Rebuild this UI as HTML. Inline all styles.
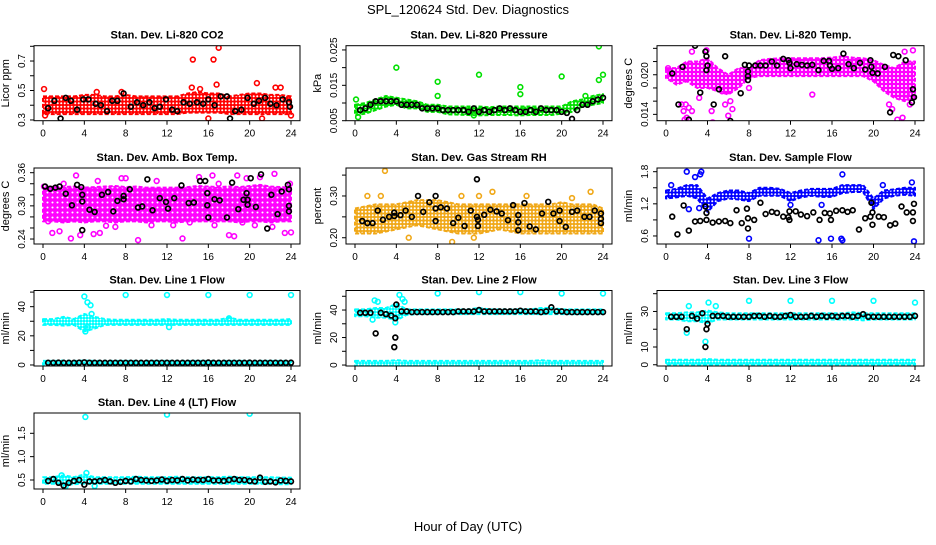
<!DOCTYPE html>
<html><head><meta charset="utf-8"><style>
body{margin:0;background:#fff;}
svg text{font-family:"Liberation Sans",sans-serif;}
</style></head><body>
<svg id="chart" width="936" height="540" viewBox="0 0 936 540" xmlns="http://www.w3.org/2000/svg">
<rect width="936" height="540" fill="#fff"/>
<defs id="defs"></defs>
<text x="468" y="14" font-size="13" text-anchor="middle">SPL_120624  Std. Dev. Diagnostics</text>
<text x="468" y="531" font-size="13" text-anchor="middle">Hour of Day (UTC)</text>
<g id="panels"></g>
</svg>
<script>
const xTicks = [0,4,8,12,16,20,24];
const H = [0,1,2,3,4,5,6,7,8,9,10,11,12,13,14,15,16,17,18,19,20,21,22,23,24];
const HH = [0.5,1,1.5,2,2.5,3,3.5,4,4.5,5,5.5,6,6.5,7,7.5,8,8.5,9,9.5,10,10.5,11,11.5,12,12.5,13,13.5,14,14.5,15,15.5,16,16.5,17,17.5,18,18.5,19,19.5,20,20.5,21,21.5,22,22.5,23,23.5,24];

// P1 CO2
const co2Lo = [0.34,0.34,0.34,0.34,0.34,0.34,0.34,0.34,0.34,0.34,0.34,0.34,0.34,0.34,0.35,0.35,0.35,0.35,0.34,0.34,0.34,0.34,0.34,0.34,0.34];
const co2Hi = [0.46,0.46,0.46,0.46,0.47,0.47,0.46,0.46,0.47,0.46,0.46,0.46,0.46,0.46,0.48,0.49,0.48,0.48,0.46,0.47,0.48,0.48,0.47,0.47,0.46];
const co2OutX = [0.1,0.2,14.5,16.5,17,16.8,20.7,21.2,16,22.5,23,24,7.6,5.2,14.4,15.2];
const co2OutY = [0.51,0.33,0.71,0.71,0.79,0.54,0.55,0.31,0.31,0.52,0.52,0.33,0.49,0.49,0.52,0.51];
const co2BX = [0.5,1.1,1.7,2.2,2.7,3.3,3.9,4.4,5.1,5.6,6.2,6.7,7.2,7.8,8.5,9.1,9.7,10.3,10.8,11.3,11.9,12.5,13,13.6,14.2,14.9,15.5,16,16.6,17.2,17.8,18.1,18.6,19.2,19.8,20.4,20.9,21.5,22,22.6,23.2,23.8,23.9];
const co2BY = [0.38,0.43,0.31,0.45,0.43,0.37,0.44,0.44,0.41,0.40,0.36,0.43,0.43,0.48,0.39,0.42,0.40,0.42,0.38,0.39,0.44,0.37,0.36,0.42,0.41,0.42,0.41,0.44,0.40,0.46,0.46,0.31,0.36,0.37,0.45,0.41,0.43,0.45,0.41,0.40,0.44,0.42,0.39];

// P2 Pressure
const prLo = [0.0065,0.007,0.008,0.009,0.0095,0.0085,0.0085,0.0075,0.0075,0.0068,0.0067,0.0066,0.0065,0.0066,0.0066,0.0066,0.0065,0.0066,0.0066,0.0066,0.007,0.0075,0.009,0.0095,0.010];
const prHi = [0.0095,0.010,0.011,0.012,0.0115,0.011,0.0105,0.0095,0.0095,0.009,0.009,0.009,0.009,0.0088,0.009,0.009,0.009,0.009,0.009,0.009,0.009,0.0105,0.011,0.012,0.0125];
const prOutX = [0.1,4,8,8,12,16,16,20,22.3,23.6,23.6,24,0.3,11.5];
const prOutY = [0.011,0.020,0.016,0.012,0.018,0.0145,0.0125,0.0175,0.012,0.026,0.0165,0.018,0.006,0.0065];
const prBY = [0.008,0.0085,0.0095,0.0105,0.0105,0.0105,0.0105,0.0105,0.0095,0.0095,0.0095,0.0095,0.0085,0.0085,0.0085,0.0085,0.008,0.008,0.008,0.008,0.008,0.0075,0.0085,0.0075,0.008,0.0075,0.008,0.0085,0.008,0.0085,0.008,0.0075,0.0075,0.008,0.0075,0.0085,0.008,0.008,0.008,0.0075,0.0072,0.0055,0.008,0.0095,0.0095,0.0105,0.011,0.0115];

// P3 Temp
const tLo = [0.0195,0.0185,0.019,0.018,0.018,0.0175,0.017,0.018,0.0195,0.0198,0.0198,0.0198,0.0198,0.0198,0.0198,0.0198,0.0198,0.0198,0.0198,0.0198,0.019,0.0175,0.0165,0.016,0.0165];
const tHi = [0.021,0.021,0.022,0.022,0.0225,0.021,0.020,0.021,0.021,0.0222,0.0224,0.0225,0.0225,0.0225,0.0225,0.0225,0.0226,0.0228,0.0226,0.0225,0.0222,0.0215,0.021,0.022,0.022];
const tOutX = [1.5,1.7,1.9,2.2,2.0,2.5,3.2,4.4,4.5,5.7,6.2,6.4,6.0,8.0,14.1,21.5,21.8,22.3,22.8,23.2,23.5,23.8,23.0,1.8,0.2,2.5,3.9,5.4];
const tOutY = [0.0155,0.0145,0.0155,0.015,0.0135,0.0145,0.0165,0.0145,0.0128,0.0155,0.016,0.0148,0.0138,0.018,0.017,0.0155,0.0148,0.0132,0.0135,0.017,0.0155,0.0237,0.0235,0.0132,0.021,0.0235,0.0237,0.0175];
const tBX = [0.6,1.2,1.6,2.2,2.8,3.3,3.8,3.9,4,3.9,4.6,5.1,5.7,6.2,7.2,7.6,7.9,7.9,7.9,8,8.6,9.1,9.6,10.2,10.7,11.3,11.8,11.9,12,12.6,13.1,13.6,14.1,14.7,15.2,15.7,15.8,16,16.6,17.1,17.6,18.1,18.7,19.2,19.7,19.8,19.9,20.4,21.1,21.6,21.9,22.4,23.1,23.8,23.9,23.7];
const tBY = [0.0202,0.0155,0.0212,0.0132,0.0244,0.0173,0.0235,0.0228,0.0214,0.0207,0.0155,0.0178,0.0228,0.013,0.0172,0.0215,0.0205,0.0198,0.0192,0.0214,0.0214,0.0214,0.0214,0.022,0.0214,0.0224,0.0222,0.0218,0.021,0.0216,0.0215,0.0214,0.0215,0.0207,0.0221,0.0221,0.0214,0.0209,0.021,0.0232,0.0216,0.021,0.0218,0.0208,0.0222,0.0212,0.0203,0.0202,0.0212,0.0143,0.023,0.0228,0.0222,0.0178,0.0166,0.0158];

// P4 Amb box temp
const aLo = [0.272,0.272,0.27,0.272,0.27,0.272,0.272,0.27,0.272,0.272,0.27,0.272,0.272,0.27,0.272,0.272,0.272,0.272,0.272,0.27,0.272,0.272,0.27,0.272,0.272];
const aHi = [0.332,0.335,0.334,0.335,0.333,0.334,0.335,0.336,0.334,0.335,0.333,0.333,0.333,0.333,0.334,0.336,0.335,0.334,0.335,0.334,0.336,0.338,0.335,0.334,0.333];
const aOutX = [0.5,0.9,1.6,2.7,3.2,3.6,4.9,5.5,6.1,7.0,7.6,9.2,10.5,13.5,14.2,15.1,16.4,18,18.5,18.8,19.3,21,22.4,22.2,23.4,24,0.1,2,5.3,8,11,12.6,20.5,16.6,17,17.5,19.7,23.9];
const aOutY = [0.272,0.251,0.254,0.241,0.355,0.247,0.249,0.251,0.264,0.262,0.35,0.238,0.265,0.241,0.27,0.352,0.355,0.247,0.245,0.355,0.27,0.352,0.358,0.262,0.251,0.252,0.335,0.34,0.345,0.35,0.345,0.265,0.265,0.265,0.34,0.28,0.35,0.34];
const aBX = [0.2,0.7,1.2,1.6,2.2,2.8,3.3,3.7,3.8,3.8,3.8,4.5,5,5.7,6.3,6.8,7.2,7.8,7.8,8.4,9.2,9.6,10.1,10.6,11.3,11.9,12.1,12.7,13.4,14.1,14.6,15.2,15.7,15.9,15.9,16,16.6,17.1,17.8,18.3,18.9,19.4,19.8,19.7,19.8,20.1,20.6,21.1,21.7,22.1,22.7,23.1,23.7,23.8,23.8,23.8];
const aBY = [0.335,0.331,0.333,0.335,0.322,0.301,0.338,0.334,0.32,0.308,0.256,0.293,0.289,0.32,0.325,0.29,0.309,0.318,0.312,0.33,0.297,0.299,0.348,0.292,0.314,0.307,0.295,0.314,0.337,0.305,0.306,0.345,0.345,0.323,0.301,0.279,0.312,0.31,0.279,0.342,0.294,0.311,0.311,0.323,0.302,0.35,0.298,0.357,0.259,0.32,0.285,0.326,0.338,0.33,0.30,0.29];

// P5 RH
const rLo = [0.21,0.21,0.21,0.215,0.22,0.225,0.23,0.225,0.22,0.215,0.21,0.21,0.21,0.215,0.22,0.215,0.21,0.21,0.21,0.21,0.21,0.21,0.21,0.21,0.21];
const rHi = [0.27,0.275,0.28,0.28,0.28,0.285,0.29,0.29,0.29,0.285,0.28,0.28,0.28,0.28,0.28,0.28,0.28,0.28,0.28,0.28,0.285,0.28,0.28,0.28,0.27];
const rOutX = [2.9,2.5,1.2,9.4,10.3,12,13.3,16.6,21,22.8,5.2,11.5];
const rOutY = [0.36,0.30,0.30,0.19,0.30,0.30,0.31,0.30,0.295,0.31,0.20,0.20];
const rBX = [0.7,1.2,1.7,2.2,2.7,3.3,3.8,3.8,4.4,4.9,5.5,6.1,6.6,7.2,7.8,7.8,7.8,8.3,8.9,9.5,10,10.6,11.2,11.8,11.8,11.9,11.9,12.5,13.1,13.7,14.2,14.8,15.3,15.8,15.8,15.8,16.4,16.9,17.5,18.1,18.7,19.2,19.8,19.8,20.4,21,21.5,22.2,22.7,23.2,23.8,23.8,23.8];
const rBY = [0.24,0.235,0.235,0.265,0.243,0.25,0.26,0.252,0.254,0.265,0.25,0.30,0.262,0.285,0.30,0.27,0.24,0.273,0.27,0.235,0.248,0.228,0.265,0.34,0.25,0.228,0.243,0.255,0.267,0.263,0.258,0.242,0.278,0.254,0.237,0.218,0.283,0.227,0.22,0.258,0.286,0.258,0.265,0.24,0.226,0.262,0.265,0.25,0.25,0.265,0.258,0.245,0.235];

// P6 Sample flow
const sLo = [1.3,1.32,1.35,1.3,1.05,1.25,1.3,1.28,1.25,1.35,1.35,1.35,1.25,1.32,1.35,1.33,1.33,1.4,1.42,1.42,1.1,1.3,1.35,1.37,1.35];
const sHi = [1.45,1.48,1.55,1.55,1.3,1.4,1.45,1.45,1.4,1.5,1.5,1.48,1.4,1.45,1.48,1.48,1.48,1.55,1.55,1.55,1.3,1.45,1.47,1.5,1.5];
const sOutX = [2,3.4,3.3,2.8,0.5,2.2,3.2,8,14.7,15.9,16.9,17,23.9,17,23.7,12,15,20.9];
const sOutY = [1.8,1.8,1.75,1.7,1.55,1.1,1.12,0.55,0.52,0.55,0.55,0.52,0.5,1.75,1.6,1.18,1.18,1.55];
const sBX = [0.6,1.1,1.7,2.2,2.8,3.3,3.8,3.9,3.9,4.5,5.1,5.7,6.2,6.8,7.3,7.8,7.9,7.9,8.5,9.1,9.6,10.2,10.7,11.3,11.8,11.9,11.9,12.5,13,13.6,14.2,14.8,15.3,15.8,15.9,16.4,17,17.5,18,18.6,19.2,19.7,19.8,19.9,19.9,20.5,21,21.6,22.1,22.7,23.2,23.8,23.8,23.9];
const sBY = [0.96,0.63,1.17,0.70,0.87,0.88,1.15,1.03,0.90,0.85,0.87,0.88,0.84,1.08,0.84,1.11,0.93,0.74,0.90,1.22,1.01,1.05,1.03,0.96,0.95,0.90,1.06,1.06,1.00,0.97,1.04,0.90,1.03,1.02,0.90,1.07,1.08,1.05,1.08,0.72,0.93,0.96,1.22,1.04,0.81,0.96,0.95,0.80,0.83,1.15,1.04,1.04,0.88,1.20];

// P7 Line 1 flow
const l1Lo = [27.5,27.5,27,27.5,23,25,27.5,27.5,27.5,27.5,27.5,27.5,27.5,27.5,27.5,27.5,27.5,27.5,27.5,27.5,27.5,27.5,27.5,27.5,27.5];
const l1Hi = [31.5,31.5,33,31.5,35,33,31.5,31,31,31,31,31,31.5,31,31,31,31,31,32.5,31,31,31,31,31,31.5];
const l1LoB = [0.3,0.3,0.3,0.3,0.3,0.3,0.3,0.3,0.3,0.3,0.3,0.3,0.3,0.3,0.3,0.3,0.3,0.3,0.3,0.3,0.3,0.3,0.3,0.3,0.3];
const l1HiB = [2.8,2.8,3,2.8,3,2.8,2.8,2.8,2.8,2.8,2.8,2.8,2.8,2.8,2.8,2.8,2.8,2.8,2.8,2.8,2.8,2.8,2.8,2.8,2.8];
const l1OutX = [4,4.3,4.6,4.7,4.1,4.3,8,12,16,20,24,12.2,18];
const l1OutY = [47,43,41,35,23,26,48,48,48,48,48,26,32];
const l1BY = [1.5,1.5,1.6,1.5,1.5,1.5,1.6,1.8,1.5,1.5,1.5,1.5,1.5,1.5,1.5,1.5,1.5,1.5,1.5,1.5,1.5,1.5,1.5,1.5,1.5,1.5,1.5,1.5,1.5,1.5,1.5,1.7,1.5,1.5,1.5,1.5,1.5,1.5,1.5,1.6,1.5,1.5,1.5,1.5,1.5,1.5,1.5,1.6];

// P8 Line 2 flow
const l2Lo = [35.5,35.5,34.5,34.5,32.5,36.5,37,37,37,37,37,37,37,37,37,37,37,37,37,37,37,37,37,37,37];
const l2Hi = [40.5,40.5,41.5,41.5,44.5,40.5,40.5,40.5,40.5,40.5,40.5,40.5,41.5,40.5,40.5,40.5,40.5,40.5,41.5,41.5,40.5,40.5,40.5,40.5,40.5];
const l2LoB = [-0.5,-0.5,-0.5,-0.5,-0.5,-0.5,-0.5,-0.5,-0.5,-0.5,-0.5,-0.5,-0.5,-0.5,-0.5,-0.5,-0.5,-0.5,-0.5,-0.5,-0.5,-0.5,-0.5,-0.5,-0.5];
const l2HiB = [3,3,3,3,3.5,3,3,3,3,3,3,3,3,3,3,3,3,3,3.5,3,3,3,3,3,3];
const l2OutX = [1.9,2.2,4.3,4.6,4.8,8,12,16,20,24,1.7,3.9];
const l2OutY = [47,46,51,48,46,52,53,53,52,52,33,31];
const l2BY = [38,38,38,23,38,37,36,44,39,39,38.5,38.5,38.5,38.5,38.5,38.5,38.5,38.5,38.5,39,39,39,39,40,39,39,39,39,39,39,39,39.5,39,39,39,38.5,39,42,39,39,38.5,38.5,38.5,38.5,38.5,38.5,38.5,38.5];
const l2EX = [3.9,3.9,3.8];
const l2EY = [34,20,13];

// P9 Line 3 flow
const l3Lo = [25.5,25.5,24.5,24.5,23.5,25.5,25.5,25.5,25.5,25.5,25.5,25.5,25.5,25.5,25.5,25.5,25.5,25.5,25.5,25,25.5,25.5,25.5,25.5,25.5];
const l3Hi = [29,29,29.5,29.5,30.5,29.5,29,29,29,29,29,29,29,29,29,29,29,29,29.5,29,29,29,29,29,29];
const l3LoB = [0,0,0,0,0,0,0,0,0,0,0,0,0,0,0,0,0,0,0,0,0,0,0,0,0];
const l3HiB = [2.8,2.8,2.8,2.8,3.2,2.8,2.8,2.8,2.8,2.8,2.8,2.8,2.8,2.8,2.8,2.8,2.8,2.8,2.8,2.8,2.8,2.8,2.8,2.8,2.8];
const l3OutX = [2.2,4.1,4.8,2,3.8,8,12,16,20,24];
const l3OutY = [33,35,33,18,13,36,36,36,36,35];
const l3BY = [27,27,27,20,27.5,26,29,23,27.5,27.5,27.5,27,27,27,27,27,27.5,27.5,27,27.5,27,27,27.5,28,27,27,27,27.5,27,27.5,27,27.5,27,27.5,27.5,27,27.5,28.5,27,27,27,27,27,27,27,27,27,27.5];
const l3EX = [3.9,3.8];
const l3EY = [20,10];

// P10 Line 4 flow
const l4Lo = [0.42,0.42,0.39,0.41,0.42,0.42,0.42,0.42,0.42,0.42,0.42,0.42,0.42,0.42,0.42,0.42,0.42,0.42,0.42,0.42,0.42,0.42,0.42,0.41,0.41];
const l4Hi = [0.56,0.56,0.6,0.56,0.62,0.56,0.56,0.56,0.56,0.57,0.56,0.56,0.56,0.57,0.56,0.56,0.56,0.56,0.57,0.56,0.56,0.56,0.56,0.55,0.55];
const l4OutX = [4.1,12,20,4.2,1.8,2.2,5];
const l4OutY = [1.85,1.9,1.92,0.65,0.6,0.37,0.37];
const l4BY = [0.48,0.52,0.44,0.38,0.44,0.48,0.5,0.4,0.47,0.47,0.48,0.5,0.47,0.44,0.46,0.48,0.47,0.52,0.5,0.49,0.48,0.49,0.51,0.48,0.5,0.49,0.52,0.49,0.51,0.5,0.5,0.52,0.49,0.49,0.48,0.5,0.52,0.5,0.5,0.48,0.47,0.55,0.46,0.47,0.45,0.49,0.48,0.47];

const NS = "http://www.w3.org/2000/svg";
const root = document.getElementById('panels');
const defs = document.getElementById('defs');
function mk(tag, attrs, parent){const e=document.createElementNS(NS,tag);for(const k in attrs)e.setAttribute(k,attrs[k]);parent.appendChild(e);return e;}

const cols=[[34,300],[346,612],[657,924]];
const rows=[[45.7,120.7],[168,244],[290.5,366],[413,489]];

const panels=[
 {id:'co2',title:'Stan. Dev. Li-820 CO2',yt:'Licor ppm',c:0,r:0,ylim:[0.295,0.804],ticks:[0.3,0.4,0.5,0.6,0.7,0.8],labels:['0.3','','0.5','','0.7',''],color:'#ff0000',tile:3.5,
  bands:[[co2Lo,co2Hi]],outX:co2OutX,outY:co2OutY,bX:co2BX,bY:co2BY},
 {id:'pressure',title:'Stan. Dev. Li-820 Pressure',yt:'kPa',c:1,r:0,ylim:[0.005,0.0262],ticks:[0.005,0.01,0.015,0.02,0.025],labels:['0.005','','0.015','','0.025'],color:'#00e000',tile:3.5,
  bands:[[prLo,prHi]],outX:prOutX,outY:prOutY,bX:HH,bY:prBY},
 {id:'temp',title:'Stan. Dev. Li-820 Temp.',yt:'degrees C',c:2,r:0,ylim:[0.01304,0.0244],ticks:[0.014,0.016,0.018,0.02,0.022,0.024],labels:['0.014','','','0.020','',''],color:'#ff00ff',tile:4,
  bands:[[tLo,tHi]],outX:tOutX,outY:tOutY,bX:tBX,bY:tBY},
 {id:'ambtemp',title:'Stan. Dev. Amb. Box Temp.',yt:'degrees C',c:0,r:1,ylim:[0.231,0.3685],ticks:[0.24,0.26,0.28,0.3,0.32,0.34,0.36],labels:['0.24','','','0.30','','','0.36'],color:'#ff00ff',tile:5,
  bands:[[aLo,aHi]],outX:aOutX,outY:aOutY,bX:aBX,bY:aBY},
 {id:'rh',title:'Stan. Dev. Gas Stream RH',yt:'percent',c:1,r:1,ylim:[0.185,0.367],ticks:[0.2,0.25,0.3,0.35],labels:['0.20','','0.30',''],color:'#f0a818',tile:3.5,
  bands:[[rLo,rHi]],outX:rOutX,outY:rOutY,bX:rBX,bY:rBY},
 {id:'sampleflow',title:'Stan. Dev. Sample Flow',yt:'ml/min',c:2,r:1,ylim:[0.45,1.869],ticks:[0.6,0.9,1.2,1.5,1.8],labels:['0.6','','1.2','','1.8'],color:'#0000ff',tile:3.5,
  bands:[[sLo,sHi]],outX:sOutX,outY:sOutY,bX:sBX,bY:sBY},
 {id:'line1',title:'Stan. Dev. Line 1 Flow',yt:'ml/min',c:0,r:2,ylim:[-0.7,51.1],ticks:[0,10,20,30,40,50],labels:['0','','20','','40',''],color:'#00ffff',tile:3,
  bands:[[l1Lo,l1Hi],[l1LoB,l1HiB]],outX:l1OutX,outY:l1OutY,bX:HH,bY:l1BY},
 {id:'line2',title:'Stan. Dev. Line 2 Flow',yt:'ml/min',c:1,r:2,ylim:[-0.7,54.2],ticks:[0,10,20,30,40,50],labels:['0','','20','','40',''],color:'#00ffff',tile:3,
  bands:[[l2Lo,l2Hi],[l2LoB,l2HiB]],outX:l2OutX,outY:l2OutY,bX:HH.concat(l2EX),bY:l2BY.concat(l2EY)},
 {id:'line3',title:'Stan. Dev. Line 3 Flow',yt:'ml/min',c:2,r:2,ylim:[-0.7,41.8],ticks:[0,10,20,30,40],labels:['0','10','','30',''],color:'#00ffff',tile:3,
  bands:[[l3Lo,l3Hi],[l3LoB,l3HiB]],outX:l3OutX,outY:l3OutY,bX:HH.concat(l3EX),bY:l3BY.concat(l3EY)},
 {id:'line4',title:'Stan. Dev. Line 4 (LT) Flow',yt:'ml/min',c:0,r:3,ylim:[0.307,1.935],ticks:[0.5,1.0,1.5],labels:['0.5','1.0','1.5'],color:'#00ffff',tile:3,
  bands:[[l4Lo,l4Hi]],outX:l4OutX,outY:l4OutY,bX:HH,bY:l4BY}
];

panels.forEach(p=>{
  const [x0,x1]=cols[p.c],[y0,y1]=rows[p.r];
  const g=mk('g',{},root);
  
  
  const sx=v=>x0+9+(v/24)*(x1-x0-18);
  const sy=v=>y1-(v-p.ylim[0])/(p.ylim[1]-p.ylim[0])*(y1-y0);
  const pid='pat-'+p.id, t=p.tile;
  const pat=mk('pattern',{id:pid,width:t,height:t,patternUnits:'userSpaceOnUse'},defs);
  mk('circle',{cx:t/2,cy:t/2,r:1.9,fill:'none',stroke:p.color,'stroke-width':1.7},pat);
  mk('circle',{cx:0,cy:0,r:1.3,fill:p.color},pat);
  mk('circle',{cx:t,cy:t,r:1.3,fill:p.color},pat);
  mk('circle',{cx:t,cy:0,r:1.3,fill:p.color},pat);
  mk('circle',{cx:0,cy:t,r:1.3,fill:p.color},pat);
  const clip='clip-'+p.id;
  const cp=mk('clipPath',{id:clip},g);mk('rect',{x:x0,y:y0,width:x1-x0,height:y1-y0},cp);
  const plot=mk('g',{'clip-path':'url(#'+clip+')'},g);
  p.bands.forEach(([lo,hi])=>{
    let pts=H.map((h,i)=>sx(h)+','+sy(hi[i]));
    pts=pts.concat(H.slice().reverse().map((h,j)=>sx(h)+','+sy(lo[H.length-1-j])));
    const band=mk('polygon',{points:pts.join(' '),fill:'url(#'+pid+')',stroke:p.color,'stroke-width':2,'stroke-dasharray':'4 2','stroke-linejoin':'round'},plot);
    
    
  });
  p.outX.forEach((x,i)=>{
    const c=mk('circle',{cx:sx(x),cy:sy(p.outY[i]),r:2.4,fill:'none',stroke:p.color,'stroke-width':1.6},plot);
    
    
  });
  p.bX.forEach((x,i)=>{
    const c=mk('circle',{cx:sx(x),cy:sy(p.bY[i]),r:2.4,fill:'none',stroke:'#000','stroke-width':1.7},plot);
    
    
  });
  const box=mk('rect',{x:x0,y:y0,width:x1-x0,height:y1-y0,fill:'none',stroke:'#000','stroke-width':1},g);
  
  
  const tt=mk('text',{x:(x0+x1)/2,y:y0-7,'font-size':11,'font-weight':'bold','text-anchor':'middle'},g);
  tt.textContent=p.title;
  
  
  const yt=mk('text',{x:0,y:0,'font-size':11,'text-anchor':'middle',transform:`translate(${x0-25},${(y0+y1)/2}) rotate(-90)`},g);
  yt.textContent=p.yt;
  
  
  xTicks.forEach(v=>{
    mk('line',{x1:sx(v),x2:sx(v),y1:y1,y2:y1+4,stroke:'#000'},g);
    const l=mk('text',{x:sx(v),y:y1+16,'font-size':10,'text-anchor':'middle'},g);
    l.textContent=v;
    
    
  });
  p.ticks.forEach((v,i)=>{
    mk('line',{x1:x0,x2:x0-4,y1:sy(v),y2:sy(v),stroke:'#000'},g);
    const lab=p.labels[i]!==undefined?p.labels[i]:'';
    if(lab){
      const l=mk('text',{x:0,y:0,'font-size':10,'text-anchor':'middle',transform:`translate(${x0-9},${sy(v)}) rotate(-90)`},g);
      l.textContent=lab;
      
      
    }
  });
});
</script>
</body></html>
